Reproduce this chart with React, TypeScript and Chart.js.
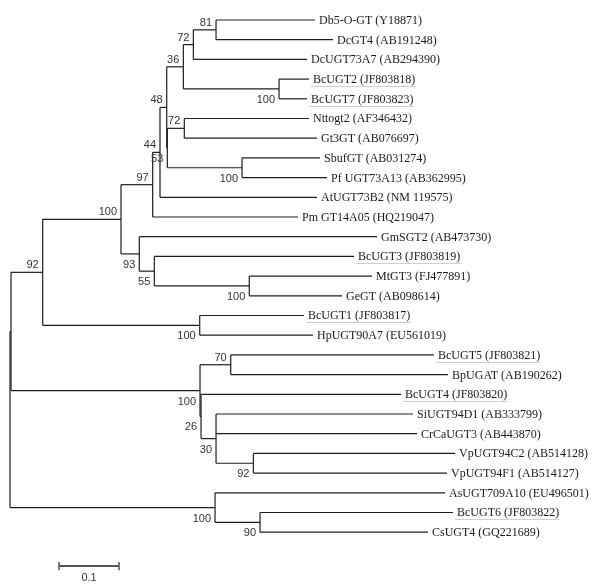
import React, { useEffect, useRef } from "react";
import { Chart, registerables } from "chart.js";

Chart.register(...registerables);

// ---------- DATA ----------
const taxa = [
  "Db5-O-GT", "DcGT4", "DcUGT73A7", "BcUGT2", "BcUGT7", "Nttogt2", "Gt3GT",
  "SbufGT", "Pf UGT73A13", "AtUGT73B2", "Pm GT14A05", "GmSGT2", "BcUGT3",
  "MtGT3", "GeGT", "BcUGT1", "HpUGT90A7", "BcUGT5", "BpUGAT", "BcUGT4",
  "SiUGT94D1", "CrCaUGT3", "VpUGT94C2", "VpUGT94F1", "AsUGT709A10", "BcUGT6", "CsUGT4",
];
const accessions = [
  "Y18871", "AB191248", "AB294390", "JF803818", "JF803823", "AF346432", "AB076697",
  "AB031274", "AB362995", "NM 119575", "HQ219047", "AB473730", "JF803819",
  "FJ477891", "AB098614", "JF803817", "EU561019", "JF803821", "AB190262", "JF803820",
  "AB333799", "AB443870", "AB514128", "AB514127", "EU496501", "JF803822", "GQ221689",
];
// Newick tree: leaves are indices into taxa, internal labels are bootstrap values,
// numbers after ':' are branch lengths (substitutions per site).
const newickTree =
  "((((((" +
  "((((0:0.165,1:0.195)81:0.0378,2:0.1895)72:0.0167,(3:0.05,4:0.0467)100:0.1595)36:0.0277," +
  "((5:0.2078,6:0.2212)72:0.0283,(7:0.13,8:0.1417)100:0.1245)53:0.001)48" +
  ":0.0112,9:0.2617)44:0.0122,10:0.2422)97:0.0528," +
  "(11:0.3962,(12:0.3328,(13:0.2045,14:0.1545)100:0.1583)55:0.025)93" +
  ":0.0305)100:0.1305,(15:0.1738,16:0.1888)100:0.2617)92:0.0528," +
  "((17:0.3388,18:0.3622)70:0.0512,(19:0.3333,(20:0.3283,21:0.335,(22:0.3362,23:0.3228)92:0.0622)30:0.025)26:0.0017)100" +
  ":0.315):0.0017," +
  "(24:0.3833,(25:0.3217,26:0.28)90:0.075)100" +
  ":0.3417);";
const scaleBarLength = 0.1;
const scaleBarLabel = "0.1";
const scaleBarStart = 0.0817; // distance units
const scaleBarRow = 27.72; // row units
const xAxisRange = [-0.01667, 0.98333];
const yAxisRange = [-1.0152, 28.782];

// ---------- TREE ----------
type TNode = { children: TNode[]; length: number; support: string; leaf: number; x: number; y: number };

function parseNewick(s: string): TNode {
  let i = 0;
  const node = (): TNode => {
    const n: TNode = { children: [], length: 0, support: "", leaf: -1, x: 0, y: 0 };
    if (s[i] === "(") {
      i++;
      n.children.push(node());
      while (s[i] === ",") {
        i++;
        n.children.push(node());
      }
      i++;
    }
    let label = "";
    while (i < s.length && !":,);".includes(s[i])) label += s[i++];
    if (s[i] === ":") {
      i++;
      let num = "";
      while (i < s.length && !",);".includes(s[i])) num += s[i++];
      n.length = parseFloat(num);
    }
    if (n.children.length) n.support = label;
    else n.leaf = parseInt(label, 10);
    return n;
  };
  return node();
}

function layout(n: TNode, parentX: number) {
  n.x = parentX + n.length;
  if (n.leaf >= 0) {
    n.y = n.leaf;
  } else {
    n.children.forEach((c) => layout(c, n.x));
    n.y = (n.children[0].y + n.children[n.children.length - 1].y) / 2;
  }
}

export default function App() {
  const ref = useRef<HTMLCanvasElement | null>(null);

  useEffect(() => {
    if (!ref.current) return;
    const root = parseNewick(newickTree);
    root.length = 0;
    layout(root, 0);

    const segments: { x: number; y: number }[][] = [];
    const leaves: TNode[] = [];
    const supports: { node: TNode; first: boolean }[] = [];
    const walk = (n: TNode, parent: TNode | null, first: boolean) => {
      if (parent) segments.push([{ x: parent.x, y: n.y }, { x: n.x, y: n.y }]);
      if (n.leaf >= 0) {
        leaves.push(n);
        return;
      }
      const c0 = n.children[0];
      const cl = n.children[n.children.length - 1];
      segments.push([{ x: n.x, y: c0.y }, { x: n.x, y: cl.y }]);
      if (n.support) supports.push({ node: n, first });
      n.children.forEach((c, k) => walk(c, n, k === 0));
    };
    walk(root, null, true);

    const lineColor = "#1e1e1e";
    const datasets: any[] = segments.map((seg) => ({
      data: seg,
      borderColor: lineColor,
      borderWidth: 1.2,
      pointRadius: 0,
      showLine: true,
    }));
    // scale bar
    const sbEnd = scaleBarStart + scaleBarLength;
    const barColor = "#555";
    datasets.push({
      data: [{ x: scaleBarStart, y: scaleBarRow }, { x: sbEnd, y: scaleBarRow }],
      borderColor: barColor, borderWidth: 2, pointRadius: 0, showLine: true,
    });
    [scaleBarStart, sbEnd].forEach((sx) =>
      datasets.push({
        data: [{ x: sx, y: scaleBarRow - 0.21 }, { x: sx, y: scaleBarRow + 0.21 }],
        borderColor: barColor, borderWidth: 1.5, pointRadius: 0, showLine: true,
      })
    );

    const labelPlugin = {
      id: "treeLabels",
      afterDatasetsDraw(chart: any) {
        const ctx = chart.ctx;
        const xs = chart.scales.x;
        const ys = chart.scales.y;
        ctx.save();
        // leaf labels
        ctx.font = '12px "Liberation Serif", "Times New Roman", serif';
        ctx.textAlign = "left";
        ctx.textBaseline = "alphabetic";
        leaves.forEach((lf) => {
          const text = `${taxa[lf.leaf]} (${accessions[lf.leaf]})`;
          const px = xs.getPixelForValue(lf.x) + 4;
          const py = ys.getPixelForValue(lf.y);
          ctx.fillStyle = "#1a1a1a";
          ctx.fillText(text, px, py + 4);
          if (taxa[lf.leaf].startsWith("BcUGT")) {
            const w = ctx.measureText(text).width;
            ctx.strokeStyle = "#cfcfcf";
            ctx.lineWidth = 1;
            ctx.beginPath();
            ctx.moveTo(px - 2, Math.round(py + 7) + 0.5);
            ctx.lineTo(px + w, Math.round(py + 7) + 0.5);
            ctx.stroke();
          }
        });
        // bootstrap values
        ctx.font = '11px "Liberation Sans", Arial, sans-serif';
        ctx.fillStyle = "#333";
        ctx.textAlign = "right";
        supports.forEach(({ node, first }) => {
          const px = xs.getPixelForValue(node.x) - 4;
          const py = ys.getPixelForValue(node.y);
          ctx.fillText(node.support, px, first ? py - 4 : py + 14);
        });
        // scale bar label
        ctx.textAlign = "center";
        ctx.fillStyle = "#333";
        const cx = (xs.getPixelForValue(scaleBarStart) + xs.getPixelForValue(sbEnd)) / 2;
        ctx.fillText(scaleBarLabel, cx, ys.getPixelForValue(scaleBarRow) + 15);
        ctx.restore();
      },
    };

    const chart = new Chart(ref.current, {
      type: "scatter",
      data: { datasets },
      options: {
        animation: false,
        responsive: false,
        events: [],
        layout: { padding: 0 },
        plugins: { legend: { display: false }, tooltip: { enabled: false } },
        scales: {
          x: { type: "linear", display: false, min: xAxisRange[0], max: xAxisRange[1] },
          y: { type: "linear", display: false, reverse: true, min: yAxisRange[0], max: yAxisRange[1] },
        },
      },
      plugins: [labelPlugin],
    } as any);
    return () => chart.destroy();
  }, []);

  return (
    <div style={{ position: "absolute", left: 0, top: 0, width: 600, height: 587, background: "#fff" }}>
      <canvas ref={ref} width={600} height={587} />
    </div>
  );
}
